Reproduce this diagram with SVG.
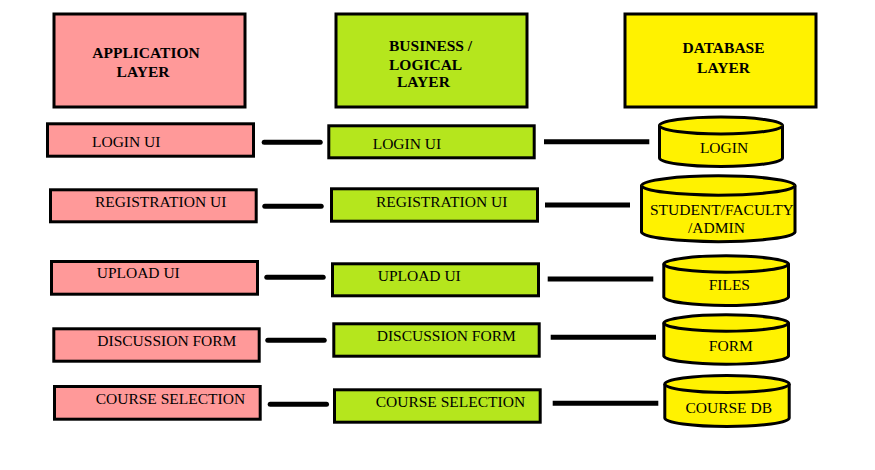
<svg xmlns="http://www.w3.org/2000/svg" width="875" height="470" viewBox="0 0 875 470">
<style>
.app{fill:#FF9999;stroke:#000;stroke-width:3}
.biz{fill:#B5E61D;stroke:#000;stroke-width:3}
.db{fill:#FFF200;stroke:#000;stroke-width:3}
.t{font-family:"Liberation Serif","Times New Roman",serif;font-size:15.5px;fill:#000}
.b{font-weight:bold}
.m{text-anchor:middle}
.lc{stroke:#000;stroke-width:5;stroke-linecap:round}
.rc{stroke:#000;stroke-width:5;stroke-linecap:butt}
</style>
<rect width="875" height="470" fill="#fff"/>
<g id="application-layer">
<rect class="app" x="54" y="14" width="191" height="93"/>
<text class="t b m" x="146" y="57.5">APPLICATION</text>
<text class="t b m" x="143" y="76.5">LAYER</text>
</g>
<g id="business-layer">
<rect class="biz" x="336" y="14" width="191" height="93"/>
<text class="t b" x="389" y="51">BUSINESS /</text>
<text class="t b" x="389" y="70">LOGICAL</text>
<text class="t b" x="397" y="86.5">LAYER</text>
</g>
<g id="database-layer">
<rect class="db" x="625" y="14" width="191" height="93"/>
<text class="t b m" x="723.5" y="53.3">DATABASE</text>
<text class="t b m" x="723.5" y="72.7">LAYER</text>
</g>
<g id="app-login">
<rect class="app" x="47.5" y="123.8" width="206" height="32.4"/>
<text class="t" x="92" y="146.7">LOGIN UI</text>
</g>
<g id="biz-login">
<rect class="biz" x="328.8" y="125.8" width="205.4" height="32"/>
<text class="t" x="372.7" y="149">LOGIN UI</text>
</g>
<g id="db-login">
<path class="db" d="M659.5,125.5 A61.5,8.5 0 0 1 782.5,125.5 L782.5,158 A61.5,8.5 0 0 1 659.5,158 Z"/>
<path class="db" d="M659.5,125.5 A61.5,8.5 0 0 0 782.5,125.5"/>
<text class="t m" x="724" y="152.7">LOGIN</text>
</g>
<g id="app-registration">
<rect class="app" x="50.5" y="189.8" width="205.7" height="32"/>
<text class="t" x="95" y="207.3">REGISTRATION UI</text>
</g>
<g id="biz-registration">
<rect class="biz" x="331.5" y="188.8" width="206" height="32.4"/>
<text class="t" x="376" y="206.7">REGISTRATION UI</text>
</g>
<g id="db-student">
<path class="db" d="M641.5,185.5 A76.8,10 0 0 1 795,185.5 L795,232 A76.8,10 0 0 1 641.5,232 Z"/>
<path class="db" d="M641.5,185.5 A76.8,10 0 0 0 795,185.5"/>
<text class="t" x="650" y="215">STUDENT/FACULTY</text>
<text class="t" x="688" y="233.3">/ADMIN</text>
</g>
<g id="app-upload">
<rect class="app" x="51.5" y="261.5" width="206" height="32.7"/>
<text class="t" x="96.7" y="278.3">UPLOAD UI</text>
</g>
<g id="biz-upload">
<rect class="biz" x="332.5" y="263.8" width="206" height="32"/>
<text class="t" x="377.7" y="280.7">UPLOAD UI</text>
</g>
<g id="db-files">
<path class="db" d="M663.8,264 A62.4,8.5 0 0 1 788.5,264 L788.5,297 A62.4,8.8 0 0 1 663.8,297 Z"/>
<path class="db" d="M663.8,264 A62.4,8.5 0 0 0 788.5,264"/>
<text class="t m" x="729.3" y="290">FILES</text>
</g>
<g id="app-discussion">
<rect class="app" x="53.8" y="328.8" width="205.4" height="32.4"/>
<text class="t" x="97.3" y="346">DISCUSSION FORM</text>
</g>
<g id="biz-discussion">
<rect class="biz" x="333.8" y="323.8" width="205.4" height="32.4"/>
<text class="t" x="376.7" y="341">DISCUSSION FORM</text>
</g>
<g id="db-form">
<path class="db" d="M663.8,323 A62.4,8.5 0 0 1 788.5,323 L788.5,356 A62.4,8.5 0 0 1 663.8,356 Z"/>
<path class="db" d="M663.8,323 A62.4,8.5 0 0 0 788.5,323"/>
<text class="t m" x="730.8" y="350.7">FORM</text>
</g>
<g id="app-course">
<rect class="app" x="54.5" y="386.5" width="205.7" height="32.7"/>
<text class="t" x="95.7" y="404">COURSE SELECTION</text>
</g>
<g id="biz-course">
<rect class="biz" x="334.5" y="389.8" width="205.7" height="32.4"/>
<text class="t" x="375.7" y="406.7">COURSE SELECTION</text>
</g>
<g id="db-course">
<path class="db" d="M664.8,384 A62.2,8.5 0 0 1 789.2,384 L789.2,418 A62.2,8.5 0 0 1 664.8,418 Z"/>
<path class="db" d="M664.8,384 A62.2,8.5 0 0 0 789.2,384"/>
<text class="t m" x="728.7" y="412.7">COURSE DB</text>
</g>
<g id="connectors">
<line class="lc" x1="264.2" y1="142.3" x2="320.2" y2="142.3"/>
<line class="lc" x1="264.8" y1="206.3" x2="321.2" y2="206.3"/>
<line class="lc" x1="266.8" y1="277.3" x2="323.2" y2="277.3"/>
<line class="lc" x1="267.8" y1="340.3" x2="324.2" y2="340.3"/>
<line class="lc" x1="270.2" y1="404.3" x2="326.5" y2="404.3"/>
<line class="rc" x1="544" y1="141.7" x2="649.3" y2="141.7"/>
<line class="rc" x1="545" y1="205" x2="630" y2="205"/>
<line class="rc" x1="547.7" y1="279" x2="653.3" y2="279"/>
<line class="rc" x1="550.7" y1="337.3" x2="656" y2="337.3"/>
<line class="rc" x1="552.7" y1="403.3" x2="658.3" y2="403.3"/>
</g>
</svg>
